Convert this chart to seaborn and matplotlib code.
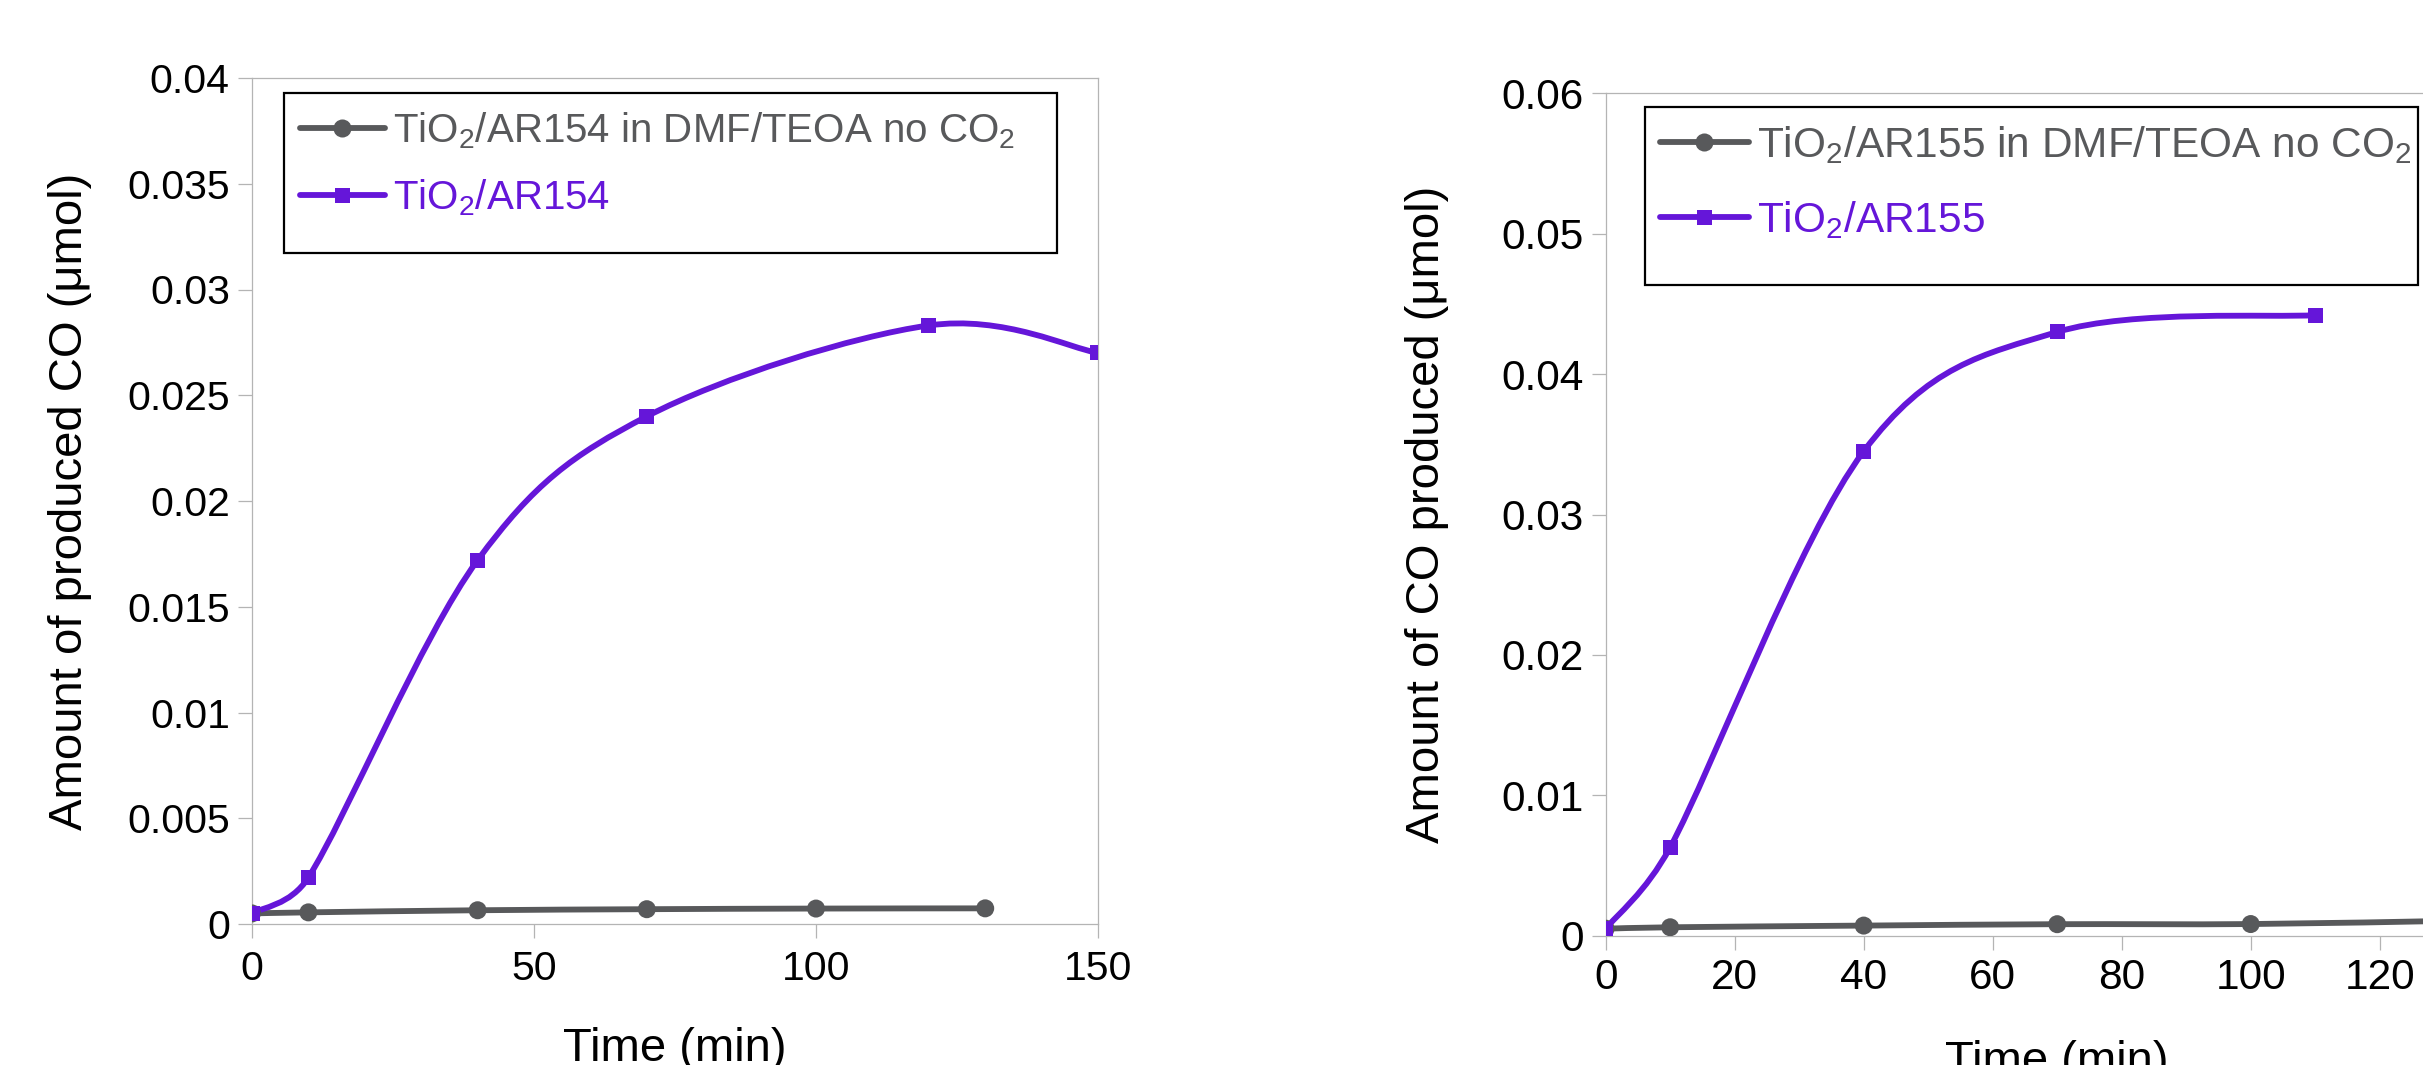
import numpy as np
import pandas as pd
import matplotlib
matplotlib.use("Agg")
import matplotlib.pyplot as plt
import seaborn as sns
from matplotlib.path import Path
from matplotlib.patches import PathPatch, Rectangle
from matplotlib.lines import Line2D

# ---------------- data ----------------
time_ctrl_154 = [0, 10, 40, 70, 100, 130]
co_ctrl_154 = [0.0005, 0.00055, 0.00065, 0.0007, 0.00073, 0.00074]
time_ar154 = [0, 10, 40, 70, 120, 150]
co_ar154 = [0.0005, 0.0022, 0.0172, 0.024, 0.0283, 0.027]

time_ctrl_155 = [0, 10, 40, 70, 100, 130]
co_ctrl_155 = [0.0005, 0.0006, 0.00072, 0.00082, 0.00083, 0.00105]
time_ar155 = [0, 10, 40, 70, 110]
co_ar155 = [0.0005, 0.0063, 0.0345, 0.043, 0.0442]

labels_154 = [r"$\mathregular{TiO_2}$/AR154 in DMF/TEOA no $\mathregular{CO_2}$",
              r"$\mathregular{TiO_2}$/AR154"]
labels_155 = [r"$\mathregular{TiO_2}$/AR155 in DMF/TEOA no $\mathregular{CO_2}$",
              r"$\mathregular{TiO_2}$/AR155"]

yticks_154 = [0, 0.005, 0.01, 0.015, 0.02, 0.025, 0.03, 0.035, 0.04]
yticklabels_154 = ["0", "0.005", "0.01", "0.015", "0.02", "0.025", "0.03", "0.035", "0.04"]
xticks_154 = [0, 50, 100, 150]
yticks_155 = [0, 0.01, 0.02, 0.03, 0.04, 0.05, 0.06]
yticklabels_155 = ["0", "0.01", "0.02", "0.03", "0.04", "0.05", "0.06"]
xticks_155 = [0, 20, 40, 60, 80, 100, 120, 140]

ylabel_154 = "Amount of produced CO (\u03bcmol)"
ylabel_155 = "Amount of CO produced (\u03bcmol)"
xlabel = "Time (min)"

GRAY = "#58595b"
PURPLE = "#6516d9"
SPINE = "#b4b4b4"

sns.set_theme(style="white")
plt.rcParams["font.family"] = ["Liberation Sans", "DejaVu Sans"]
plt.rcParams["mathtext.fontset"] = "custom"
plt.rcParams["mathtext.rm"] = "Liberation Sans"
plt.rcParams["mathtext.it"] = "Liberation Sans:italic"
plt.rcParams["mathtext.bf"] = "Liberation Sans:bold"


def smooth_path(ax, x, y):
    """Excel-style smoothed line: cubic Bezier through the data points."""
    pts = np.column_stack([np.asarray(x, float), np.asarray(y, float)])
    disp = ax.transData.transform(pts)
    n = len(pts)
    verts = [pts[0]]
    codes = [Path.MOVETO]
    for i in range(n - 1):
        i0, i3 = max(i - 1, 0), min(i + 2, n - 1)
        P0, P1, P2, P3 = pts[i0], pts[i], pts[i + 1], pts[i3]
        D0, D1, D2, D3 = disp[i0], disp[i], disp[i + 1], disp[i3]
        d12 = np.hypot(*(D2 - D1))
        d02 = np.hypot(*(D2 - D0))
        d13 = np.hypot(*(D3 - D1))
        f1 = f2 = 1.0 / 6.0
        if d02 > 0 and d02 / 6.0 >= d12 / 2.0:
            f1 = d12 / (2.0 * d02)
        if d13 > 0 and d13 / 6.0 >= d12 / 2.0:
            f2 = d12 / (2.0 * d13)
        c1 = P1 + f1 * (P2 - P0)
        c2 = P2 - f2 * (P3 - P1)
        verts += [c1, c2, P2]
        codes += [Path.CURVE4] * 3
    return Path(verts, codes)


def draw_series(ax, x, y, color, marker, size, lw):
    ax.add_patch(PathPatch(smooth_path(ax, x, y), facecolor="none", edgecolor=color,
                           lw=lw, capstyle="butt", joinstyle="round", zorder=2))
    df = pd.DataFrame({"t": x, "v": y})
    sns.scatterplot(data=df, x="t", y="v", ax=ax, marker=marker, s=size,
                    color=color, edgecolor="none", linewidth=0, zorder=3, legend=False)


def style_axes(ax, xlim, ylim, xticks, yticks, yticklabels, fs, xpad, ypad):
    ax.set_xlim(*xlim)
    ax.set_ylim(*ylim)
    ax.set_xticks(xticks)
    ax.set_xticklabels([str(t) for t in xticks])
    ax.set_yticks(yticks)
    ax.set_yticklabels(yticklabels)
    for sp in ax.spines.values():
        sp.set_visible(True)
        sp.set_color(SPINE)
        sp.set_linewidth(0.9)
    ax.tick_params(axis="both", which="major", direction="out", length=10, width=0.9,
                   color=SPINE, labelsize=fs, labelcolor="black",
                   bottom=True, left=True, top=False, right=False)
    ax.tick_params(axis="x", pad=xpad)
    ax.tick_params(axis="y", pad=ypad)
    ax.set_facecolor("white")
    ax.grid(False)


fig = plt.figure(figsize=(24.23, 10.65), dpi=100)
fig.patch.set_facecolor("white")

W, H = 2423.0, 1065.0
ax1 = fig.add_axes([252 / W, 1 - 924 / H, 846 / W, 846 / H])
ax2 = fig.add_axes([1605.7 / W, 1 - 935.7 / H, 903 / W, 842.4 / H])

style_axes(ax1, (0, 150), (0, 0.04), xticks_154, yticks_154, yticklabels_154, 29.5, 8.5, 6)
style_axes(ax2, (0, 140), (0, 0.06), xticks_155, yticks_155, yticklabels_155, 30.5, 6, 6)

LW = 4.2
draw_series(ax1, time_ctrl_154, co_ctrl_154, GRAY, "o", 168, LW)
draw_series(ax1, time_ar154, co_ar154, PURPLE, "s", 117, LW)
draw_series(ax2, time_ctrl_155, co_ctrl_155, GRAY, "o", 168, LW)
draw_series(ax2, time_ar155, co_ar155, PURPLE, "s", 117, LW)

ax1.set_xlabel(xlabel, fontsize=34, color="black")
ax1.set_ylabel(ylabel_154, fontsize=34, color="black")
ax1.yaxis.set_label_coords(-0.189, 0.5)
ax1.xaxis.set_label_coords(0.5, -0.1215)

ax2.set_xlabel(xlabel, fontsize=34, color="black")
ax2.set_ylabel(ylabel_155, fontsize=34, color="black")
ax2.yaxis.set_label_coords(-0.174, 0.5)
ax2.xaxis.set_label_coords(0.5, -0.124)


def make_legend(ax, labels, frame, anchor, fs, spacing):
    ax.add_patch(Rectangle(frame[:2], frame[2], frame[3], transform=ax.transAxes,
                           facecolor="white", edgecolor="black", lw=1.6, zorder=4))
    handles = [
        Line2D([], [], color=GRAY, lw=LW, marker="o", markersize=13, markeredgewidth=0),
        Line2D([], [], color=PURPLE, lw=LW, marker="s", markersize=10.8, markeredgewidth=0),
    ]
    leg = ax.legend(handles, labels, loc="upper left", bbox_to_anchor=anchor,
                    borderaxespad=0, borderpad=0, fontsize=fs, frameon=False,
                    handlelength=2.1, handletextpad=0.2,
                    labelspacing=spacing, numpoints=1, labelcolor="linecolor")
    leg.set_zorder(5)
    return leg


make_legend(ax1, labels_154, (0.0378, 0.7931, 0.9137, 0.1891), (0.0567, 0.962), 29, 0.65)
make_legend(ax2, labels_155, (0.0435, 0.7724, 0.856, 0.2113), (0.0601, 0.9636), 30.5, 0.78)

fig.savefig("out.png", dpi=100, facecolor="white")
